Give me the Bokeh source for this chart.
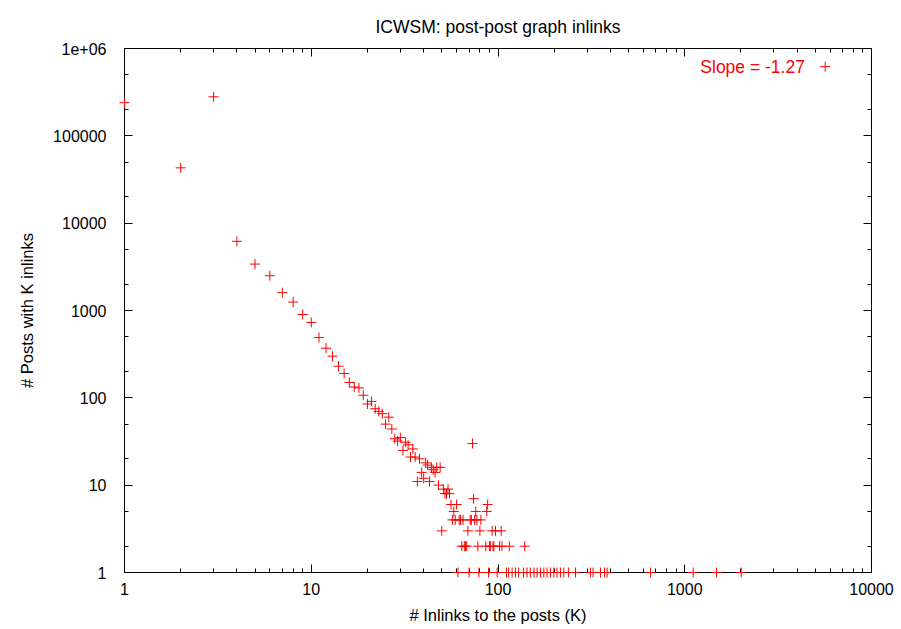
from bokeh.plotting import figure
from bokeh.models import (LogAxis, FixedTicker, CustomJSTickFormatter, Label, Range1d)
from bokeh.embed import file_html
from bokeh.resources import INLINE

# ---- data (K inlinks -> number of posts) ----
inlinks_k = [1, 2, 3, 4, 5, 6, 7, 8, 9, 10,
             11, 12, 13, 14, 15, 16, 17, 18, 19, 20,
             21, 22, 23, 24, 25, 26, 27, 28, 29, 30,
             31, 32, 33, 34, 35, 36, 37, 38, 39, 40,
             41, 42, 43, 44, 45, 46, 47, 48, 49, 50,
             51, 52, 53, 54, 55, 56, 57, 58, 59, 60,
             61, 62, 63, 64, 65, 66, 67, 68, 69, 70,
             71, 72, 73, 74, 75, 76, 77, 78, 79, 80,
             81, 86, 87, 88, 89, 90, 91, 93, 94, 95,
             97, 99, 102, 104, 105, 111, 114, 115, 119, 124,
             129, 137, 139, 143, 149, 156, 162, 169, 176, 183,
             191, 199, 207, 216, 225, 239, 260, 313, 323, 354,
             372, 384, 656, 1110, 1480, 2006]
posts_count = [240000, 43000, 280000, 6200, 3400, 2500, 1600, 1250, 900, 730,
               490, 370, 300, 230, 190, 150, 133, 130, 107, 85,
               91, 75, 70, 66, 50, 60, 44, 34, 32, 35,
               25, 31, 29, 21, 26, 21, 11, 20, 14, 12,
               18, 17, 11, 16, 15, 14, 16, 10, 16, 3,
               9, 8, 8, 9, 8, 6, 4, 5, 4, 6,
               1, 4, 4, 2, 4, 2, 2, 2, 3, 1,
               4, 4, 30, 7, 4, 5, 4, 2, 1, 3,
               4, 2, 5, 6, 1, 2, 2, 3, 2, 2,
               3, 1, 2, 3, 2, 1, 1, 2, 1, 1,
               1, 1, 2, 1, 1, 1, 1, 1, 1, 1,
               1, 1, 1, 1, 1, 1, 1, 1, 1, 1,
               1, 1, 1, 1, 1, 1]

title_text = "ICWSM: post-post graph inlinks"
x_label = "# Inlinks to the posts (K)"
y_label = "# Posts with K inlinks"
key_label = "Slope = -1.27"
key_pos = (4400, 620000)
key_mark = (5650, 620000)

x_decades = [1, 10, 100, 1000, 10000]
y_decades = [1, 10, 100, 1000, 10000, 100000, 1000000]
x_minor = [d * m for d in x_decades[:-1] for m in range(2, 10)]
y_minor = [d * m for d in y_decades[:-1] for m in (2, 5)]

FONT = "Liberation Sans"

p = figure(width=901, height=629, frame_width=747, frame_height=524,
           x_axis_type="log", y_axis_type="log",
           x_range=Range1d(1, 10000), y_range=Range1d(1, 1000000),
           output_backend="svg", toolbar_location=None,
           min_border_left=124, min_border_right=30,
           min_border_top=48, min_border_bottom=57)

p.title.text = title_text
p.title.align = "center"
p.title.text_font = FONT
p.title.text_font_size = "17.5px"
p.title.text_font_style = "normal"
p.title.text_color = "black"
p.title.standoff = 24

p.xgrid.visible = False
p.ygrid.visible = False
p.outline_line_color = "black"
p.outline_line_width = 1
p.background_fill_color = "white"
p.border_fill_color = "white"

fmt = CustomJSTickFormatter(code="return tick >= 1e6 ? '1e+06' : Math.round(tick).toString();")
blank = CustomJSTickFormatter(code="return ' ';")

def style_axis(ax, ticks, minor, labels=True):
    ax.ticker = FixedTicker(ticks=ticks, minor_ticks=minor)
    ax.major_tick_in = 8
    ax.major_tick_out = 0
    ax.minor_tick_in = 4
    ax.minor_tick_out = 0
    ax.axis_line_color = "black"
    ax.major_tick_line_color = "black"
    ax.minor_tick_line_color = "black"
    if labels:
        ax.formatter = fmt
        ax.major_label_text_font = FONT
        ax.major_label_text_font_size = "16px"
        ax.major_label_text_color = "black"
        ax.axis_label_text_font = FONT
        ax.axis_label_text_font_size = "16.5px"
        ax.axis_label_text_font_style = "normal"
        ax.axis_label_text_color = "black"
    else:
        ax.formatter = blank
        ax.major_label_text_font_size = "4px"
        ax.major_label_text_alpha = 0
        ax.major_label_standoff = 0

xa = p.xaxis[0]
style_axis(xa, x_decades, x_minor)
xa.axis_label = x_label
xa.major_label_standoff = 10
xa.axis_label_standoff = 8

ya = p.yaxis[0]
style_axis(ya, y_decades, y_minor)
ya.axis_label = y_label
ya.major_label_standoff = 18
ya.axis_label_standoff = 14

top = LogAxis()
style_axis(top, x_decades, x_minor, labels=False)
p.add_layout(top, "above")
right = LogAxis()
style_axis(right, y_decades, y_minor, labels=False)
p.add_layout(right, "right")

pts = p.scatter(inlinks_k, posts_count, marker="cross", size=10,
                line_color="#ff0000", line_width=1, level="overlay")

p.add_layout(Label(x=key_pos[0], y=key_pos[1], text=key_label,
                   text_color="#ff0000", text_font=FONT, text_font_size="17.5px",
                   text_align="right", text_baseline="middle"))
p.scatter([key_mark[0]], [key_mark[1]], marker="cross", size=10,
          line_color="#ff0000", line_width=1)

open("out.html", "w").write(file_html(p, INLINE))
